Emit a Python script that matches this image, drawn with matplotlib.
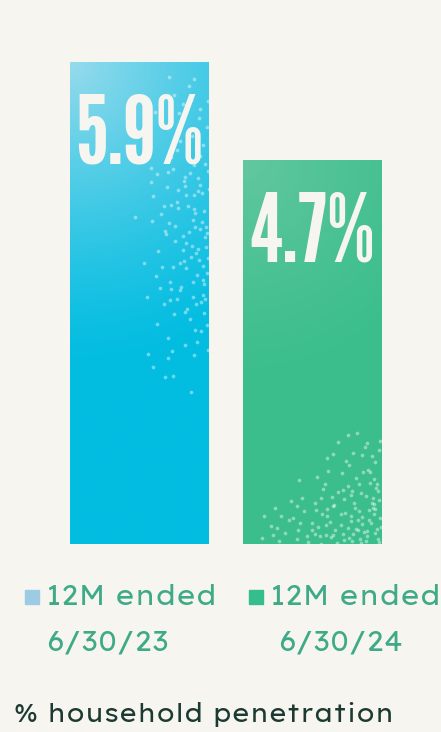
import matplotlib
matplotlib.use("Agg")
import numpy as np
import matplotlib.pyplot as plt
from matplotlib.patches import Rectangle
from matplotlib.colors import to_rgb

# ---- data ----
periods = ["12M ended\n6/30/23", "12M ended\n6/30/24"]
values = [5.9, 4.7]
value_labels = ["5.9%", "4.7%"]
legend_lines = [("12M ended", "6/30/23"), ("12M ended", "6/30/24")]
title = "% household penetration"

# ---- style ----
BG = "#F7F5F0"
bar_dark = ["#03BDE1", "#3BBE8C"]
bar_light = ["#97DBEC", "#63C7A0"]
legend_sq = ["#9CCBE3", "#36BD8D"]
TXT_GREEN = "#3FAA88"
TXT_DARK = "#1D3A32"
W, H = 441, 732

fig = plt.figure(figsize=(W / 100, H / 100), dpi=100, facecolor=BG)
ax = fig.add_axes([70 / W, 188 / H, 312 / W, 482 / H])
ax.set_facecolor(BG)
ax.set_xlim(-0.4, 1.4)
ax.set_ylim(0, max(values))
ax.axis("off")

xs = np.arange(len(values))
bars = ax.bar(xs, values, width=0.8, color=bar_dark, zorder=1)


def halton(i, b):
    f, r = 1.0, 0.0
    while i > 0:
        f /= b
        r += f * (i % b)
        i //= b
    return r


for k, (b, v) in enumerate(zip(bars, values)):
    x0 = b.get_x()
    x1 = x0 + b.get_width()
    ny, nx = 300, 120
    yy, xx = np.mgrid[0:ny, 0:nx]
    u = xx / (nx - 1)
    t = yy / (ny - 1)
    hpx = v / max(values) * 482
    dist = np.sqrt((u * 139) ** 2 + (t * hpx) ** 2)
    m = np.clip(1 - dist / (300 if k == 0 else 230), 0, 1) ** 1.3
    c0 = np.array(to_rgb(bar_dark[k]))
    c1 = np.array(to_rgb(bar_light[k]))
    img = c0[None, None, :] * (1 - m[..., None]) + c1[None, None, :] * m[..., None]
    im = ax.imshow(img, extent=(x0, x1, 0, v), origin="upper", aspect="auto",
                   zorder=2, interpolation="bilinear")
    im.set_clip_path(b)

    # decorative speckle dots (deterministic quasi-random sequence)
    px, py = [], []
    for i in range(1, 800):
        a, c = halton(i, 2), halton(i, 3)
        if k == 0:
            cx = 0.45 + 0.55 * a
            cy = 0.30 + 0.69 * c
            dens = (cx - 0.45) / 0.55 * np.exp(-((cy - 0.64) / 0.24) ** 2)
        else:
            cx = 0.05 + 0.95 * a
            cy = 0.30 * c
            dens = ((cx - 0.05) / 0.95 + (0.30 - cy) / 0.30 - 0.7) / 1.3
        if halton(i, 5) < dens * (0.5 if k == 0 else 0.55):
            px.append(x0 + cx * (x1 - x0))
            py.append(cy * v)
    ax.scatter(px, py, s=7, color="white", alpha=0.42, linewidths=0, zorder=3)

for xi, v, lab in zip(xs, values, value_labels):
    ax.annotate(lab, (xi, v), xytext=(0, -101 * 0.72), textcoords="offset points",
                ha="center", va="baseline", fontsize=69, family="League Gothic",
                color=BG, zorder=4)


def fx(x):
    return x / W


def fy(y):
    return 1 - y / H


# legend
sq_x = [25, 249]
txt_x = [46, 270]
date_x = [46, 278]
for i, (l1, l2) in enumerate(legend_lines):
    fig.patches.append(Rectangle((fx(sq_x[i]), fy(604)), 14 / W, 14 / H,
                                 transform=fig.transFigure, color=legend_sq[i]))
    fig.text(fx(txt_x[i]), fy(605), l1, ha="left", va="baseline", fontsize=19.5,
             family="Lexend Exa", fontweight="medium", color=TXT_GREEN)
    fig.text(fx(date_x[i]), fy(651), l2, ha="left", va="baseline", fontsize=19.5,
             family="Lexend Exa", fontweight="medium", color=TXT_GREEN)

fig.text(fx(14), fy(722), title, ha="left", va="baseline", fontsize=18,
         family="Lexend Exa", fontweight="semibold", color=TXT_DARK)

fig.savefig("out.png", dpi=100, facecolor=BG)
